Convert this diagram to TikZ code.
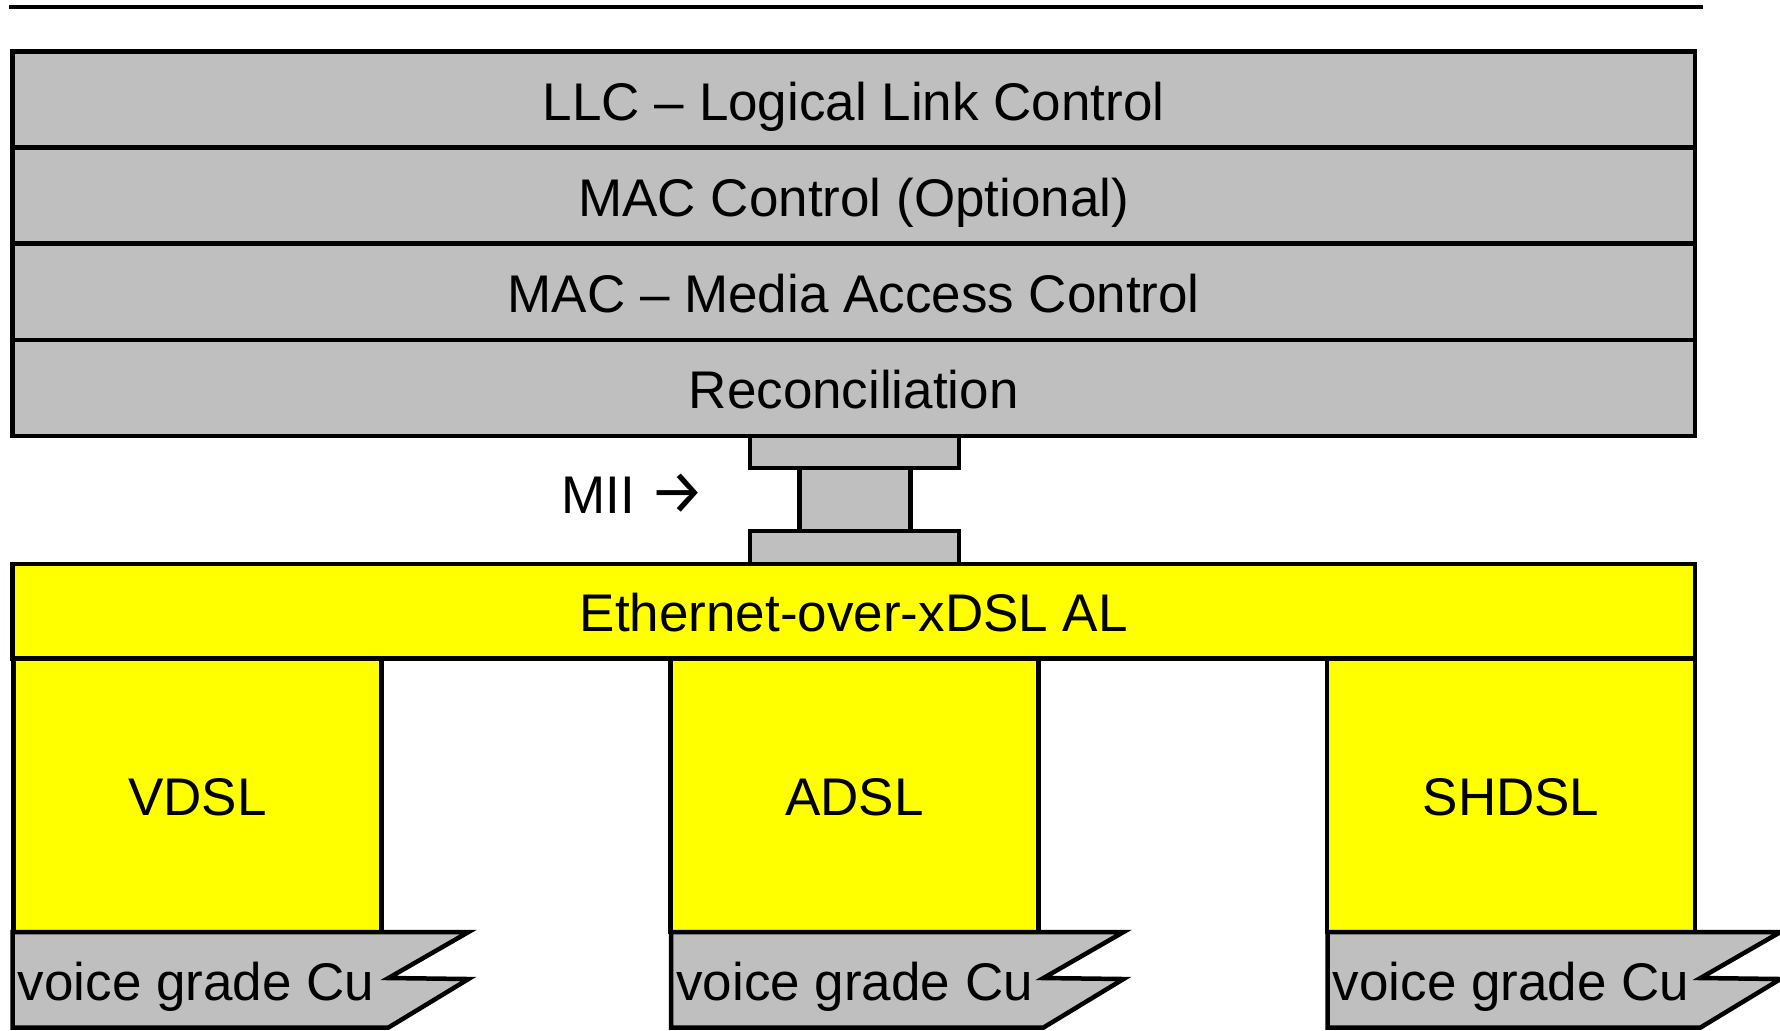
\documentclass[tikz,border=0pt]{standalone}
\usepackage{fontspec}
\setmainfont{Liberation Sans}
\newfontfamily\arrowfont{Fira Sans}
\definecolor{gry}{RGB}{191,191,191}
\definecolor{ylw}{RGB}{255,255,0}
\begin{document}
\begin{tikzpicture}[x=0.5pt,y=-0.5pt,
  lw/.style={line width=2.25pt},
  txt/.style={font=\fontsize{26.5}{30}\selectfont, text height=20.5pt, text depth=0pt},
  layer/.style={draw, lw, fill=gry, minimum width=841.25pt, minimum height=48.05pt,
    inner sep=0pt, outer sep=0pt, txt},
  eth/.style={draw, lw, fill=ylw, minimum width=841.25pt, minimum height=47.25pt,
    inner sep=0pt, outer sep=0pt, txt},
  dsl/.style={draw, lw, fill=ylw, minimum width=184pt, minimum height=136.75pt,
    inner sep=0pt, outer sep=0pt, txt},
  pad/.style={draw, lw, fill=gry},
  cu/.style={draw, lw, fill=gry, line join=miter},
  cutxt/.style={font=\fontsize{26.5}{30}\selectfont, anchor=base west, inner sep=0pt}
]
\useasboundingbox (0,0) rectangle (1780,1030);
\draw[lw] (9,7) -- (1703,7);

% MII connector
\draw[pad] (750,436) rectangle (959,468);
\draw[pad] (799.5,468) rectangle (910.5,531);
\draw[pad] (750,531) rectangle (959,564);

% upper layers
\node[layer] (llc)   at (853.75,99.5)   {LLC – Logical Link Control};
\node[layer] (macc)  at (853.75,195.6)  {MAC Control (Optional)};
\node[layer] (mac)   at (853.75,291.7)  {MAC – Media Access Control};
\node[layer] (rec)   at (853.75,387.8)  {Reconciliation};

\node[cutxt] (mii) at (561,513) {MII {\arrowfont\fontsize{31}{34}\selectfont →}};

% lower layers
\node[eth] (eth) at (853.75,611.25) {Ethernet-over-xDSL AL};
\node[dsl] (vdsl)  at (197.5,795.25)  {VDSL};
\node[dsl] (adsl)  at (854.25,795.25) {ADSL};
\node[dsl] (shdsl) at (1511,795.25)   {SHDSL};

% voice grade Cu
\foreach \L/\R/\n in {12.5/382.5/cua, 671/1037.5/cub, 1327.5/1694.5/cuc}{
  \draw[cu] (\L,932) -- (\R+86,932) -- (\R+6,978) -- (\R+86,979) -- (\R+6,1027.5) -- (\L,1027.5) -- cycle;
  \node[cutxt] (\n) at (\L+5,1000) {voice grade Cu};
}
\end{tikzpicture}
\end{document}
